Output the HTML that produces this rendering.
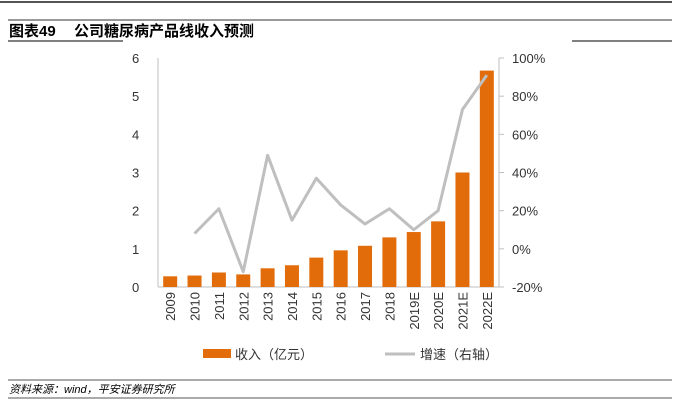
<!DOCTYPE html>
<html><head><meta charset="utf-8"><style>
body{margin:0;width:685px;height:417px;background:#fff;overflow:hidden;font-family:"Liberation Sans","Noto Sans CJK SC",sans-serif;}
</style></head><body>
<svg width="685" height="417" style="position:absolute;left:0;top:0">
<line x1="0" y1="2" x2="672" y2="2" stroke="#555" stroke-width="2"/>
<line x1="8" y1="20" x2="672" y2="20" stroke="#999" stroke-width="2"/>
<text x="9" y="36" font-size="15" font-weight="bold" fill="#000" font-family="Liberation Sans,Noto Sans CJK SC,sans-serif">图表49</text>
<text x="74" y="36" font-size="15" font-weight="bold" fill="#000" font-family="Liberation Sans,Noto Sans CJK SC,sans-serif">公司糖尿病产品线收入预测</text>
<line x1="8" y1="41" x2="123" y2="41" stroke="#000" stroke-width="1"/>
<line x1="572" y1="41" x2="672" y2="41" stroke="#000" stroke-width="1"/>
<g id="plot"></g>
<g>
<rect x="203" y="349" width="28" height="9" fill="#e36c0a"/>
<text x="235" y="359" font-size="13" fill="#333">收入（亿元）</text>
<line x1="385" y1="354" x2="415" y2="354" stroke="#bfbfbf" stroke-width="3"/>
<text x="420" y="359" font-size="13" fill="#333">增速（右轴）</text>
</g>
<line x1="8" y1="380" x2="672" y2="380" stroke="#555" stroke-width="1"/>
<text x="9" y="393" font-size="11" font-style="italic" fill="#000">资料来源：wind，平安证券研究所</text>
<line x1="8" y1="398" x2="672" y2="398" stroke="#555" stroke-width="1"/>
</svg>
<script>
const categories=["2009","2010","2011","2012","2013","2014","2015","2016","2017","2018","2019E","2020E","2021E","2022E"];
const revenue=[0.28,0.30,0.38,0.33,0.49,0.57,0.77,0.96,1.08,1.30,1.44,1.72,3.00,5.67];
const growth=[null,8,21,-12,49,15,37,23,13,21,10,20,73,91];
const leftTicks=[0,1,2,3,4,5,6];
const rightTicks=[-20,0,20,40,60,80,100];
const NS="http://www.w3.org/2000/svg";
const g=document.getElementById('plot');
const X0=158,X1=499,Y0=287,Y1=58;
const bw=(X1-X0)/categories.length;
const xc=i=>X0+bw*(i+0.5);
const yl=v=>Y0-(v/6)*(Y0-Y1);
const yr=v=>Y0-((v+20)/120)*(Y0-Y1);
function mk(t,a){const e=document.createElementNS(NS,t);for(const k in a)e.setAttribute(k,a[k]);g.appendChild(e);return e;}
let e;
e=mk('line',{x1:X0,y1:Y1,x2:X0,y2:Y0,stroke:'#bfbfbf'});


e=mk('line',{x1:X1,y1:Y1,x2:X1,y2:Y0,stroke:'#bfbfbf'});


e=mk('line',{x1:X0,y1:Y0,x2:X1,y2:Y0,stroke:'#bfbfbf'});


leftTicks.forEach(v=>{e=mk('text',{x:132,y:yl(v)+5,'font-size':13,fill:'#333'});e.textContent=v;

});
rightTicks.forEach(v=>{e=mk('line',{x1:X1,y1:yr(v),x2:X1+5,y2:yr(v),stroke:'#bfbfbf'});


e=mk('text',{x:512,y:yr(v)+5,'font-size':13,fill:'#333'});e.textContent=v+'%';

});
revenue.forEach((v,i)=>{e=mk('rect',{x:xc(i)-7,y:yl(v),width:14,height:Y0-yl(v),fill:'#e36c0a'});

});
let pts=[];growth.forEach((v,i)=>{if(v!==null)pts.push(xc(i)+','+yr(v));});
e=mk('polyline',{points:pts.join(' '),fill:'none',stroke:'#bfbfbf','stroke-width':3,'stroke-linejoin':'round'});


categories.forEach((c,i)=>{e=mk('text',{x:xc(i)+5,y:292,'font-size':13,fill:'#333','text-anchor':'end',transform:`rotate(-90 ${xc(i)+5} 292)`});e.textContent=c;

});
</script>
</body></html>
